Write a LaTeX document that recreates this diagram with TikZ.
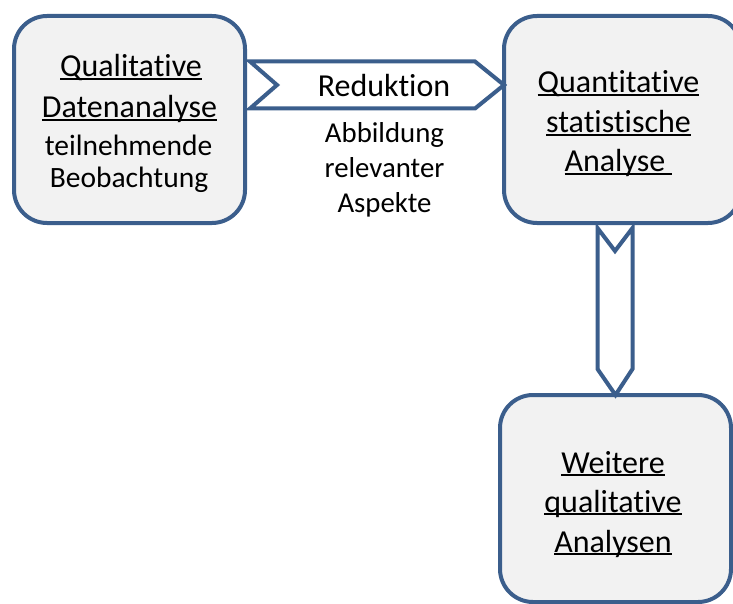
\documentclass[tikz,border=0pt]{standalone}
\usepackage{fontspec}
\setmainfont[Ligatures=NoCommon,RawFeature={-liga;-clig;-calt;-dlig}]{Carlito}
\usetikzlibrary{calc}
\definecolor{edgeblue}{RGB}{59,94,140}
\definecolor{boxfill}{RGB}{242,242,242}
% underline sitting just below the baseline, ignoring descenders
\newcommand\ulword[1]{\setbox0\hbox{#1}\rlap{\rule[-3.2pt]{\wd0}{1.8pt}}\box0}
\begin{document}
\begin{tikzpicture}[x=1pt,y=-1pt,
  block/.style={draw=edgeblue,fill=boxfill,line width=4pt,rounded corners=33pt,
    minimum width=231pt,minimum height=207pt,inner sep=0pt,outer sep=0pt},
  chev/.style={draw=edgeblue,fill=white,line width=4pt,line join=miter},
  big/.style={anchor=base,inner sep=0pt,font=\fontsize{32}{39}\selectfont},
  small/.style={anchor=base,inner sep=0pt,font=\fontsize{29.5}{34}\selectfont},
  note/.style={anchor=base,inner sep=0pt,font=\fontsize{28.8}{34}\selectfont}]
\useasboundingbox (0,0) rectangle (733,604);
\clip (0,0) rectangle (733,604);

% the three boxes (the upper right one runs past the right margin)
\node[block] (b1) at (129.5,119.5) {};
\node[block,minimum width=237pt] (b2) at (622.5,119.5) {};
\node[block] (b3) at (615.5,498.5) {};

% horizontal block arrow between the upper boxes
\draw[chev] (250,61.5) -- (475,61.5) -- (b2.west |- 0,85) -- (475,108.5)
  -- (250,108.5) -- (277,85) -- cycle;

% vertical block arrow down to the lower box
\draw[chev] (597.5,228) -- (615,251) -- (632.5,228) -- (632.5,369)
  -- (b3.north) -- (597.5,369) -- cycle;

% box texts
\node[big] (t1a) at (131,77) {\ulword{Qualitative}};
\node[big] (t1b) at (129.5,118) {\ulword{Datenanalyse}};
\node[small] (t1c) at (128.5,156) {teilnehmende};
\node[small] (t1d) at (129,188) {Beobachtung};

\node[big] (t2a) at (618.5,93) {\ulword{Quantitative}};
\node[big] (t2b) at (618.5,133) {\ulword{statistische}};
\node[big] (t2c) at (618.5,172) {\ulword{Analyse\ }};

\node[big] (t3a) at (613,473) {\ulword{Weitere}};
\node[big] (t3b) at (613,512) {\ulword{qualitative}};
\node[big] (t3c) at (613,552) {\ulword{Analysen}};

% arrow labels
\node[big] (r1) at (384,97) {Reduktion};
\node[note] (r2) at (384.5,143) {Abbildung};
\node[note] (r3) at (384.5,178) {relevanter};
\node[note] (r4) at (384.5,212) {Aspekte};
\end{tikzpicture}
\end{document}
